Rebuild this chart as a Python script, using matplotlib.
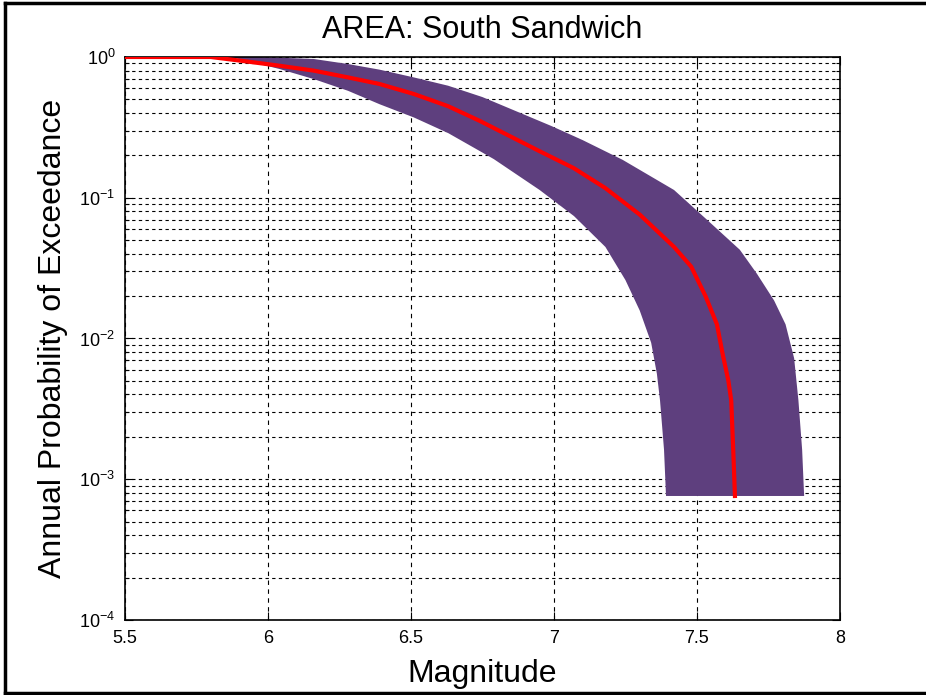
import matplotlib
matplotlib.use("Agg")
import matplotlib.pyplot as plt
from matplotlib.ticker import FixedLocator, LogLocator, StrMethodFormatter, NullFormatter
import numpy as np

plt.rcParams['font.family'] = ['Liberation Sans', 'DejaVu Sans']
plt.rcParams['mathtext.fontset'] = 'custom'
plt.rcParams['mathtext.rm'] = 'Liberation Sans'

# median hazard curve (magnitude, annual probability of exceedance)
mag_med = [5.50, 5.80, 5.93, 6.04, 6.16, 6.28, 6.39, 6.51, 6.63, 6.74,
           6.95, 7.07, 7.18, 7.30, 7.42, 7.48, 7.53, 7.57, 7.59, 7.61,
           7.62, 7.627, 7.633]
p_med = [1.0, 1.0, 0.927, 0.867, 0.800, 0.716, 0.643, 0.546, 0.447, 0.352,
         0.214, 0.162, 0.117, 0.0759, 0.0447, 0.0324, 0.0200, 0.0126, 0.00776, 0.00501,
         0.00363, 0.00162, 0.00076]

# upper bound of the uncertainty band
mag_hi = [5.50, 5.97, 6.16, 6.28, 6.39, 6.51, 6.63, 6.75, 6.99, 7.10,
          7.24, 7.42, 7.53, 7.65, 7.71, 7.77, 7.81, 7.84, 7.855, 7.868,
          7.875]
p_hi = [1.0, 1.0, 0.968, 0.891, 0.813, 0.716, 0.625, 0.519, 0.324, 0.257,
        0.186, 0.1135, 0.0713, 0.0427, 0.0288, 0.0186, 0.0126, 0.00724, 0.00363, 0.00162,
        0.00076]

# lower bound of the uncertainty band
mag_lo = [5.50, 5.78, 5.89, 6.04, 6.16, 6.28, 6.39, 6.51, 6.63, 6.74,
          6.79, 6.95, 7.07, 7.18, 7.25, 7.30, 7.34, 7.36, 7.371, 7.385,
          7.392]
p_lo = [1.0, 1.0, 0.977, 0.822, 0.697, 0.575, 0.462, 0.372, 0.288, 0.215,
        0.188, 0.1135, 0.0741, 0.0447, 0.0260, 0.0158, 0.00933, 0.00562, 0.00363, 0.00162,
        0.00076]

x_ticks = [5.5, 6, 6.5, 7, 7.5, 8]

fig = plt.figure(figsize=(9.26, 6.95), dpi=100)
ax = fig.add_axes([0.135, 0.108, 0.772, 0.810])

# band polygon: upper curve out, lower curve back
band_x = list(mag_hi) + list(mag_lo[::-1])
band_y = list(p_hi) + list(p_lo[::-1])
ax.fill(band_x, band_y, color='#5e3f7e', zorder=2, lw=0)
ax.plot(mag_med, p_med, color='red', lw=3, zorder=3)

ax.set_yscale('log')
ax.set_xlim(5.5, 8)
ax.set_ylim(1e-4, 1)
ax.xaxis.set_major_locator(FixedLocator(x_ticks))
ax.xaxis.set_major_formatter(StrMethodFormatter('{x:g}'))
ax.yaxis.set_major_locator(LogLocator(base=10, numticks=10))
ax.yaxis.set_minor_locator(LogLocator(base=10, subs=np.arange(2, 10), numticks=10))
ax.yaxis.set_minor_formatter(NullFormatter())

ax.grid(True, which='major', axis='x', color='k', lw=0.8, linestyle=(0, (4, 4)), zorder=1)
ax.grid(True, which='both', axis='y', color='k', lw=0.8, linestyle=(0, (3, 3)), zorder=1)
ax.set_axisbelow(True)

ax.tick_params(which='both', direction='in', top=True, right=True, labelsize=13, width=0.8)
ax.tick_params(which='major', length=6, pad=7)
ax.tick_params(which='minor', length=3)
for s in ax.spines.values():
    s.set_linewidth(1.2)

ax.set_title('AREA: South Sandwich', fontsize=22, pad=14)
ax.set_xlabel('Magnitude', fontsize=23, labelpad=9)
ax.set_ylabel('Annual Probability of Exceedance', fontsize=23, labelpad=8)

# frame around the figure
for xs, ys in [([0.005, 0.005], [0.003, 0.995]), ([0.005, 1.0], [0.995, 0.995]), ([0.005, 1.0], [0.003, 0.003])]:
    fig.add_artist(plt.Line2D(xs, ys, color='k', lw=2.5, transform=fig.transFigure))

fig.savefig('out.png', dpi=100)
